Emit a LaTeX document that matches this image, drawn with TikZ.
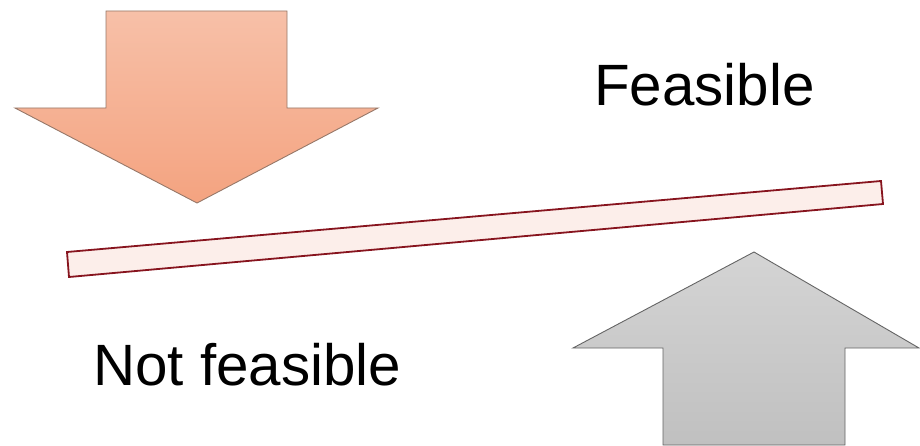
\documentclass[tikz,border=0pt]{standalone}
\usepackage{fontspec}
\setmainfont{Liberation Sans}
\definecolor{orTop}{RGB}{247,192,168}
\definecolor{orBot}{RGB}{244,163,128}
\definecolor{orLine}{RGB}{150,120,105}
\definecolor{gyTop}{RGB}{212,212,212}
\definecolor{gyBot}{RGB}{192,192,192}
\definecolor{gyLine}{RGB}{100,100,100}
\definecolor{barFill}{RGB}{252,238,234}
\definecolor{barLine}{RGB}{135,20,30}
\tikzset{
  lbl/.style={anchor=base west, inner sep=0pt, font=\fontsize{58.3}{60}\selectfont, text=black},
  uparrow/.style={draw=gyLine, line width=0.9pt, top color=gyTop, bottom color=gyBot, line join=miter},
  downarrow/.style={draw=orLine, line width=0.9pt, top color=orTop, bottom color=orBot, line join=miter},
  barstyle/.style={draw=barLine, line width=1.8pt, fill=barFill, line join=miter}
}
\begin{document}
\begin{tikzpicture}[x=1pt,y=-1pt]
\useasboundingbox (0,0) rectangle (920,446);
% top (down-pointing) arrow
\draw[downarrow] (106,11) -- (287,11) -- (287,108) -- (378,108) -- (197,203) -- (15,108) -- (106,108) -- cycle;
% bottom (up-pointing) arrow
\draw[uparrow] (754,252) -- (919,348) -- (845,348) -- (845,445) -- (663,445) -- (663,348) -- (573,348) -- cycle;
% bar
\coordinate (b1) at (67,252);
\coordinate (b2) at (881,181);
\coordinate (b3) at (883,204);
\coordinate (b4) at (69,277);
\draw[barstyle] (b1) -- (b2) -- (b3) -- (b4) -- cycle;
% labels
\node[lbl] (feas) at (594,105.5) {Feasible};
\node[lbl] (notfeas) at (93,385) {Not feasible};
\end{tikzpicture}
\end{document}
